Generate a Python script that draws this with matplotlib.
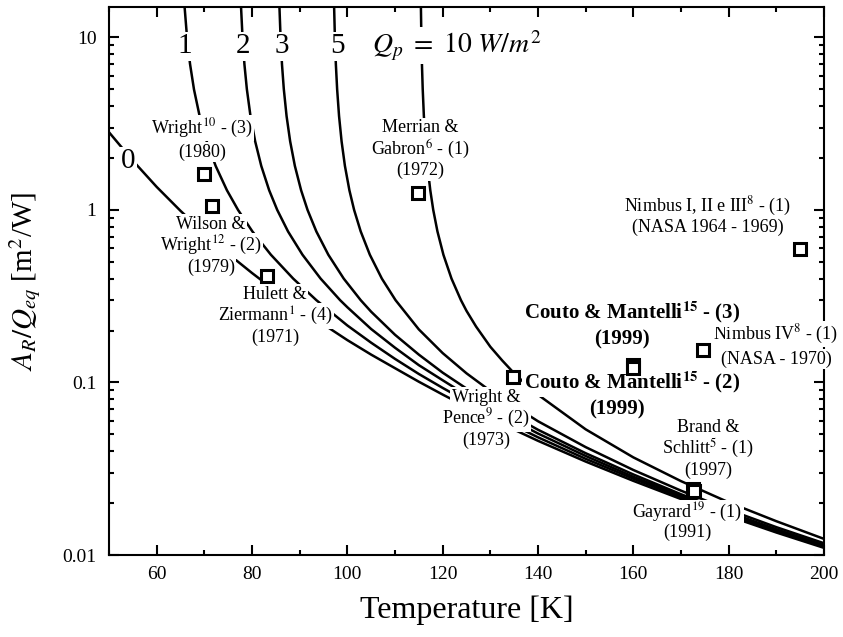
import numpy as np
import matplotlib
matplotlib.use("Agg")
import matplotlib.pyplot as plt
from matplotlib import ticker

plt.rcParams['font.family'] = ['Liberation Serif', 'DejaVu Serif']
plt.rcParams['mathtext.fontset'] = 'stix'

# Radiator area per equivalent heat load vs temperature, one curve per parasitic load Q_p [W/m^2]
temp_q0 = [50, 55, 60, 65, 70, 75, 80, 85, 90, 95, 100, 105, 110, 115, 120, 125, 130, 140, 150, 160, 170, 180, 190, 200]
ratio_q0 = [2.82, 1.93, 1.36, 0.988, 0.735, 0.557, 0.431, 0.338, 0.269, 0.217, 0.176, 0.145, 0.121, 0.101, 0.0851,
            0.0722, 0.0618, 0.0459, 0.0348, 0.0269, 0.0211, 0.0168, 0.0135, 0.0110]

temp_q1 = [65.86, 66.37, 67.0, 67.83, 69.01, 70.49, 72.37, 74.74, 77.07, 80.09, 83.96, 88.64, 93.5, 100, 105, 110,
           115, 120, 125, 130, 140, 150, 160, 170, 180, 190, 200]
ratio_q1 = [15.0, 9.98, 7.01, 4.99, 3.50, 2.50, 1.80, 1.30, 1.00, 0.750, 0.550, 0.400, 0.300, 0.214, 0.170, 0.137,
            0.112, 0.0930, 0.0779, 0.0658, 0.0481, 0.0361, 0.0277, 0.0216, 0.0171, 0.0137, 0.0112]

temp_q2 = [77.70, 78.01, 78.41, 78.92, 79.68, 80.66, 81.94, 83.60, 85.29, 87.56, 90.59, 94.39, 98.48, 100, 105, 110,
           115, 120, 125, 130, 140, 150, 160, 170, 180, 190, 200]
ratio_q2 = [15.0, 10.0, 6.98, 5.01, 3.50, 2.50, 1.80, 1.30, 1.00, 0.750, 0.550, 0.400, 0.300, 0.273, 0.204, 0.159,
            0.126, 0.103, 0.0844, 0.0705, 0.0506, 0.0375, 0.0284, 0.0221, 0.0174, 0.0139, 0.0113]

temp_q3 = [85.76, 85.99, 86.29, 86.67, 87.25, 88.00, 88.99, 90.30, 91.65, 93.50, 96.01, 99.24, 102.8, 105, 110, 115,
           120, 125, 130, 140, 150, 160, 170, 180, 190, 200]
ratio_q3 = [14.9, 9.99, 6.97, 5.02, 3.50, 2.50, 1.80, 1.30, 1.00, 0.750, 0.550, 0.400, 0.300, 0.257, 0.189, 0.145,
            0.114, 0.0922, 0.0758, 0.0532, 0.0389, 0.0293, 0.0225, 0.0177, 0.0141, 0.0114]

temp_q5 = [97.23, 97.39, 97.59, 97.86, 98.26, 98.79, 99.49, 100.43, 101.42, 102.8, 104.72, 107.24, 110.11, 115, 120,
           125, 130, 140, 150, 160, 170, 180, 190, 200]
ratio_q5 = [14.8, 9.92, 7.00, 5.00, 3.50, 2.50, 1.80, 1.30, 1.00, 0.751, 0.550, 0.400, 0.300, 0.203, 0.148,
            0.113, 0.0893, 0.0596, 0.0422, 0.0311, 0.0236, 0.0183, 0.0145, 0.0117]

temp_q10 = [115.43, 115.53, 115.65, 115.81, 116.05, 116.38, 116.81, 117.40, 118.02, 118.90, 120.16, 121.85, 123.83,
            125, 127, 130, 132.5, 135, 137.5, 140, 150, 160, 170, 180, 190, 200]
ratio_q10 = [15.1, 9.91, 6.99, 5.02, 3.52, 2.49, 1.80, 1.30, 1.00, 0.751, 0.549, 0.400, 0.300,
             0.260, 0.211, 0.161, 0.134, 0.113, 0.0974, 0.0849, 0.0535, 0.0368, 0.0268, 0.0202, 0.0157, 0.0124]

curves = [(temp_q0, ratio_q0), (temp_q1, ratio_q1), (temp_q2, ratio_q2),
          (temp_q3, ratio_q3), (temp_q5, ratio_q5), (temp_q10, ratio_q10)]

# Published design points (open squares)
point_temp = [70.0, 71.6, 83.1, 114.8, 134.7, 159.9, 159.9, 174.7, 172.5, 172.8, 194.9]
point_ratio = [1.62, 1.05, 0.414, 1.25, 0.107, 0.127, 0.121, 0.155, 0.0242, 0.0236, 0.595]

mask = dict(facecolor='white', edgecolor='none', pad=1.0)
label_opts = {'fontsize': 13, 'ha': 'center', 'va': 'center', 'zorder': 3, 'bbox': mask}
bold_opts = {'fontsize': 15, 'fontweight': 'bold', 'ha': 'center', 'va': 'center', 'zorder': 3, 'bbox': mask}
digit_opts = {'fontsize': 21, 'ha': 'center', 'va': 'baseline', 'zorder': 3, 'bbox': mask}

fig = plt.figure(figsize=(8.43, 6.37), dpi=100)
ax = fig.add_axes([0.1293, 0.1287, 0.8482, 0.8603])

for t, r in curves:
    ax.plot(t, r, color='black', lw=1.8, zorder=2, solid_capstyle='butt')

ax.plot(point_temp, point_ratio, ls='none', marker='s', ms=8, mfc='white', mec='black', mew=2.2, zorder=5)


def stacked(x, y, lines, step=15.5, opts=label_opts):
    # one masked text per line so the curves stay visible next to short lines
    n = len(lines)
    for i, line in enumerate(lines):
        dy = ((n - 1) / 2.0 - i) * step
        ax.annotate(line, xy=(x, y), xytext=(0, dy), textcoords='offset points', **opts)


stacked(69.5, 2.54, [r'Wright$^{10}$ - (3)', '(1980)'], step=17)
stacked(71.4, 0.619, ['Wilson &', r'Wright$^{12}$ - (2)', '(1979)'])
stacked(84.8, 0.243, ['Hulett &', r'Ziermann$^{1}$ - (4)', '(1971)'])
stacked(115.2, 2.25, ['Merrian &', r'Gabron$^{6}$ - (1)', '(1972)'])
stacked(175.6, 0.911, [r'Nimbus I, II e III$^{8}$ - (1)', '(NASA 1964 - 1969)'], step=14.5)
stacked(189.9, 0.161, [r'Nimbus IV$^{8}$ - (1)', '(NASA - 1970)'], step=18)
stacked(129.1, 0.0617, ['Wright &', r'Pence$^{9}$ - (2)', '(1973)'])
stacked(175.7, 0.0414, ['Brand &', r'Schlitt$^{5}$ - (1)', '(1997)'])
stacked(171.3, 0.0154, [r'Gayrard$^{19}$ - (1)', '(1991)'], step=14.5)

ax.text(159.7, 0.2535, r'Couto & Mantelli$^{\mathbf{15}}$ - (3)', **bold_opts)
ax.text(157.6, 0.177, '(1999)', **bold_opts)
ax.text(159.7, 0.0997, r'Couto & Mantelli$^{\mathbf{15}}$ - (2)', **bold_opts)
ax.text(156.6, 0.0697, '(1999)', **bold_opts)

# Q_p labels on the curves
ax.text(54.0, 1.75, '0', **digit_opts)
for t, q in [(65.9, '1'), (78.1, '2'), (86.3, '3'), (98.0, '5')]:
    ax.text(t, 8.1, q, **digit_opts)
ax.text(105.2, 8.1, r'$Q_p\ =\ 10\ W/m^2$', fontsize=20, ha='left', va='baseline', zorder=3, bbox=mask)

ax.set_yscale('log')
ax.set_xlim(50, 200)
ax.set_ylim(0.01, 15)
ax.xaxis.set_major_locator(ticker.MultipleLocator(20))
ax.xaxis.set_minor_locator(ticker.MultipleLocator(10))
ax.yaxis.set_major_locator(ticker.LogLocator(base=10))
ax.yaxis.set_minor_locator(ticker.LogLocator(base=10, subs=np.arange(2, 10)))
ax.yaxis.set_major_formatter(ticker.FuncFormatter(lambda v, p: f'{v:g}'))
ax.yaxis.set_minor_formatter(ticker.NullFormatter())

ax.tick_params(which='both', direction='in', top=True, right=True, labelsize=14, width=1.5)
ax.tick_params(which='major', length=7)
ax.tick_params(which='minor', length=3.5)
ax.tick_params(axis='x', pad=8)
ax.tick_params(axis='y', pad=9)
for s in ax.spines.values():
    s.set_linewidth(1.5)

ax.set_xlabel('Temperature [K]', fontsize=23, labelpad=9)
ax.set_ylabel(r'$A_R/Q_{eq}$ [m$^2$/W]', fontsize=21, labelpad=14)

fig.savefig('out.png', dpi=100)
